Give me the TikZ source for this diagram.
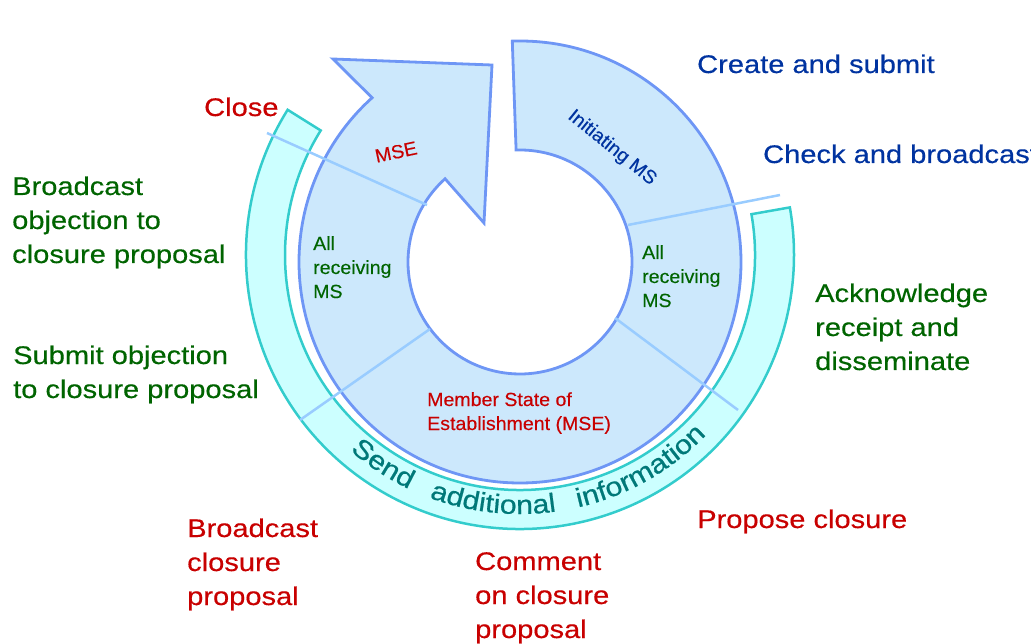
\documentclass[tikz,border=0pt]{standalone}
\usepackage{fontspec}
\setmainfont{Liberation Sans}
\newfontfamily\lblfont[FakeStretch=1.14,FakeBold=0.4]{Liberation Sans}
\newfontfamily\inlfont[FakeStretch=1.03,FakeBold=0.3]{Liberation Sans}
\newfontfamily\arcfont[FakeStretch=1.14,FakeBold=0.6]{Liberation Sans}
\usepackage{tikz}
\usetikzlibrary{calc,decorations.text}
\definecolor{ringfill}{RGB}{204,232,252}
\definecolor{ringline}{RGB}{110,150,245}
\definecolor{bandfill}{RGB}{204,255,255}
\definecolor{bandline}{RGB}{51,204,204}
\definecolor{divline}{RGB}{153,204,255}
\definecolor{txtblue}{RGB}{0,51,160}
\definecolor{txtgreen}{RGB}{0,100,0}
\definecolor{txtred}{RGB}{200,0,0}
\definecolor{txtteal}{RGB}{0,120,120}
\newcommand\sendfont{\arcfont\fontsize{26.5}{30}\selectfont}

\begin{document}
\begin{tikzpicture}[x=1pt,y=1pt,
  lbl/.style={anchor=base west, inner sep=0pt, align=left, font=\lblfont\fontsize{25.5}{34}\selectfont},
  inl/.style={anchor=base west, inner sep=0pt, align=left, font=\inlfont\fontsize{19}{24}\selectfont},
  divider/.style={draw=divline, line width=2.5pt}]
\useasboundingbox (0,0) rectangle (1031,-644);
\coordinate (ring) at (520,-262);
\coordinate (band) at (520,-255);
\draw[draw=bandline, fill=bandfill, line width=2.5pt] ($(band)+(148:274)$) arc[start angle=148, end angle=370, radius=274]
  -- ($(band)+(10:235)$) arc[start angle=370, end angle=148, radius=235] -- cycle;
\draw[draw=ringline, fill=ringfill, line width=2.8pt] ($(ring)+(92:221)$) arc[start angle=92, end angle=-228, radius=221]
  -- (333,-59) -- (492,-65) -- (484,-223) -- ($(ring)+(132:112)$) arc[start angle=132, end angle=452, radius=112] -- cycle;
\coordinate (closeout) at (267,-133);  \coordinate (closein) at (427,-205);
\coordinate (checkout) at (780,-195);  \coordinate (checkin) at (628,-225);
\coordinate (ackout) at (738,-410);    \coordinate (ackin) at (615,-318);
\coordinate (objout) at (300,-420);    \coordinate (objin) at (430,-329);
\draw[divider] (closeout) -- (closein);
\draw[divider] (checkout) -- (checkin);
\draw[divider] (ackout) -- (ackin);
\draw[divider] (objout) -- (objin);
\path[decorate, decoration={text along path, text={|\sendfont|Send additional information}, text color=txtteal,
  text align={fit to path stretching spaces}}] ($(band)+(229:259)$) arc[start angle=229, end angle=316, radius=259];
\node[lbl, text=txtblue] (create) at (697,-73) {Create and submit};
\node[lbl, text=txtblue] (check) at (763,-163) {Check and broadcast};
\node[lbl, text=txtred] (close) at (204,-116) {Close};
\node[lbl, text=txtgreen] (bcobj) at (12,-263) {Broadcast\\objection to\\closure proposal};
\node[lbl, text=txtgreen] (subobj) at (13,-398) {Submit objection\\to closure proposal};
\node[lbl, text=txtgreen] (ack) at (815,-370) {Acknowledge\\receipt and\\disseminate};
\node[lbl, text=txtred] (propose) at (697,-528) {Propose closure};
\node[lbl, text=txtred] (comment) at (475,-638) {Comment\\on closure\\proposal};
\node[lbl, text=txtred] (bcclose) at (187,-605) {Broadcast\\closure\\proposal};
\node[inl, text=txtgreen] (recvleft) at (313,-298) {All\\receiving\\MS};
\node[inl, text=txtgreen] (recvright) at (642,-307) {All\\receiving\\MS};
\node[inl, text=txtred] (mse) at (427,-430) {Member State of\\Establishment (MSE)};
\node[inl, anchor=center, rotate=12, text=txtred] (mseshort) at (396,-152) {MSE};
\node[inl, anchor=center, rotate=-39, text=txtblue] (initms) at (612,-148) {Initiating MS};
\end{tikzpicture}
\end{document}
